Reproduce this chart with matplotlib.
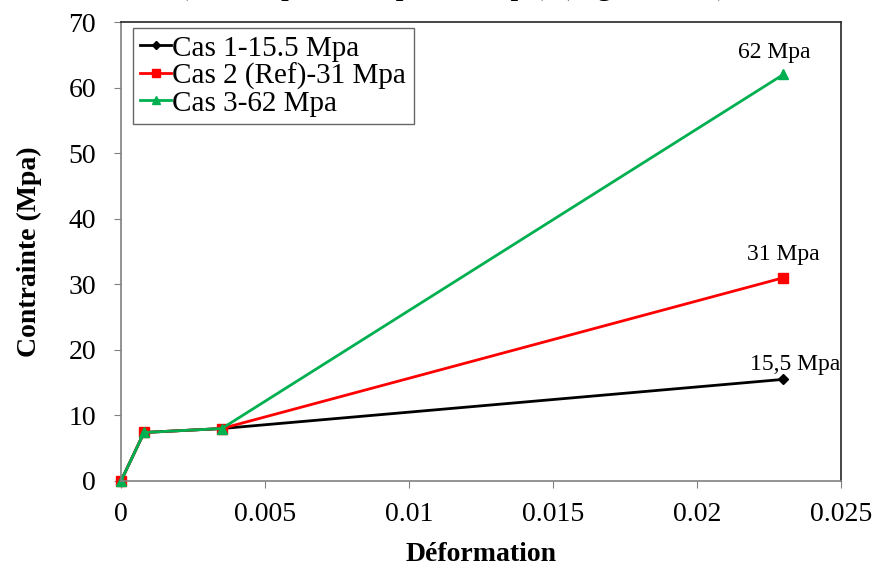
import matplotlib
matplotlib.use("Agg")
import matplotlib.pyplot as plt

plt.rcParams['font.family'] = ['Liberation Serif', 'DejaVu Serif']

# strain values shared by the three cases
deformation = [0.0, 0.0008, 0.0035, 0.023]

# stress (Mpa) for each case
cas1 = [0.0, 7.4, 8.0, 15.5]
cas2 = [0.0, 7.4, 8.0, 31.0]
cas3 = [0.0, 7.4, 8.0, 62.0]

labels = ['Cas 1-15.5 Mpa', 'Cas 2 (Ref)-31 Mpa', 'Cas 3-62 Mpa']
end_labels = ['15,5 Mpa', '31 Mpa', '62 Mpa']

x_ticks = [0, 0.005, 0.01, 0.015, 0.02, 0.025]
x_tick_labels = ['0', '0.005', '0.01', '0.015', '0.02', '0.025']
y_ticks = [0, 10, 20, 30, 40, 50, 60, 70]

fig = plt.figure(figsize=(8.72, 5.69), dpi=100)
ax = fig.add_axes([121 / 872, 88 / 569, 720 / 872, 459 / 569])

# caption of the source figure, mostly cut off at the top
fig.text(453 / 872, 1 + 6 / 569, '(15.5 Mpa, 31 Mpa, 62 Mpa) (Figure 3.12)',
         ha='center', va='baseline', fontsize=23)

ax.plot(deformation, cas1, color='black', marker='D', markersize=5, lw=2, label=labels[0])
ax.plot(deformation, cas2, color='#FF0000', marker='s', markersize=7, lw=2, label=labels[1])
ax.plot(deformation, cas3, color='#00B050', marker='^', markersize=7, lw=2, label=labels[2])

# value labels at the end of each curve
ax.annotate(end_labels[0], (deformation[-1], cas1[-1]), xytext=(12, 15),
            textcoords='offset pixels', ha='center', va='center', fontsize=17)
ax.annotate(end_labels[1], (deformation[-1], cas2[-1]), xytext=(0, 23),
            textcoords='offset pixels', ha='center', va='center', fontsize=17)
ax.annotate(end_labels[2], (deformation[-1], cas3[-1]), xytext=(-9, 22),
            textcoords='offset pixels', ha='center', va='center', fontsize=17)

ax.set_xlim(0, 0.025)
ax.set_ylim(0, 70)
ax.set_xticks(x_ticks)
ax.set_xticklabels(x_tick_labels)
ax.set_yticks(y_ticks)
ax.tick_params(labelsize=20, direction='out', length=5, color='#808080', pad=13)
ax.tick_params(axis='x', pad=10)

for side in ['left', 'bottom']:
    ax.spines[side].set_color('#808080')
for side in ['top', 'right']:
    ax.spines[side].set_color('#262626')
for sp in ax.spines.values():
    sp.set_linewidth(1.2)
ax.patch.set_facecolor('white')
for line in ax.get_lines():
    line.set_clip_on(False)

ax.set_xlabel('Déformation', fontsize=20, fontweight='bold', labelpad=11)
ax.set_ylabel('Contrainte (Mpa)', fontsize=20, fontweight='bold', labelpad=19)

leg = ax.legend(loc='upper left', bbox_to_anchor=(12 / 720, 1 - 6 / 459),
                borderaxespad=0, fontsize=21, frameon=True, fancybox=False,
                handlelength=1.05, handletextpad=0.05, labelspacing=0.02,
                borderpad=0.25, markerscale=0.9)
leg.get_frame().set_edgecolor('#404040')
leg.get_frame().set_linewidth(1.0)

plt.savefig('out.png', dpi=100)
